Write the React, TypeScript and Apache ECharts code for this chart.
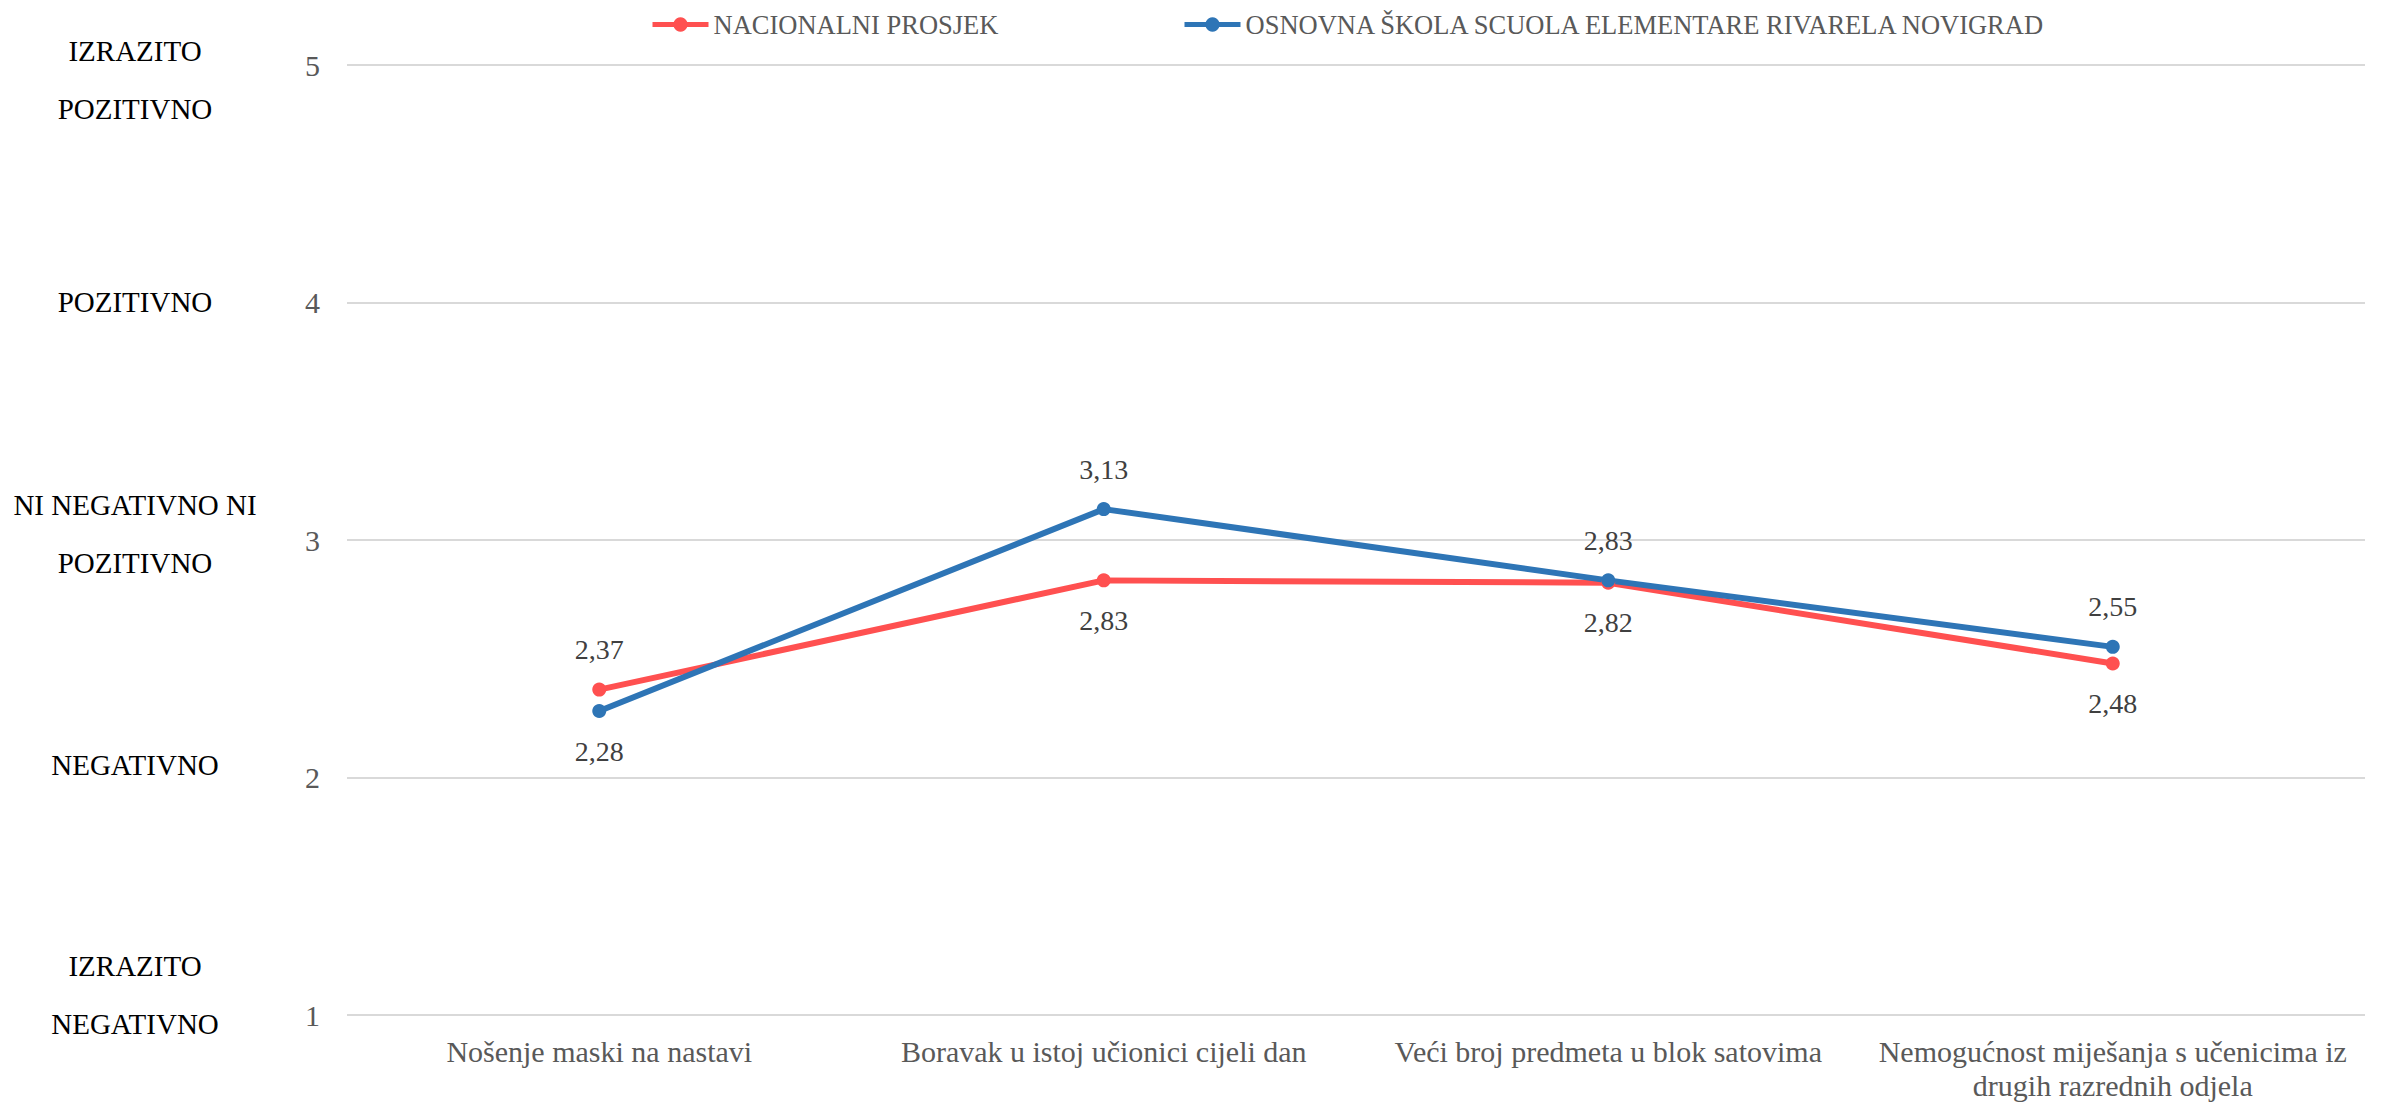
import React, { useEffect, useRef } from "react";
import * as echarts from "echarts";

const categories = [
  "Nošenje maski na nastavi",
  "Boravak u istoj učionici cijeli dan",
  "Veći broj predmeta u blok satovima",
  "Nemogućnost miješanja s učenicima iz\ndrugih razrednih odjela",
];
const seriesNames = ["NACIONALNI PROSJEK", "OSNOVNA ŠKOLA SCUOLA ELEMENTARE RIVARELA NOVIGRAD"];
const nationalValues = [2.37, 2.83, 2.82, 2.48];
const schoolValues = [2.28, 3.13, 2.83, 2.55];
const nationalLabelPos = ["top", "bottom", "bottom", "bottom"];
const schoolLabelPos = ["bottom", "top", "top", "top"];
const scaleLabels = [
  "IZRAZITO\nPOZITIVNO",
  "POZITIVNO",
  "NI NEGATIVNO NI\nPOZITIVNO",
  "NEGATIVNO",
  "IZRAZITO\nNEGATIVNO",
];
const scaleLabelY = [80, 302, 534, 765, 995];

const FONT = "'Liberation Serif', 'Times New Roman', serif";
const RED = "#FF5050";
const BLUE = "#2E75B6";

const fmt = (p: any) => Number(p.value).toFixed(2).replace(".", ",");

export default function App() {
  const ref = useRef<HTMLDivElement>(null);
  useEffect(() => {
    document.body.style.margin = "0";
    const chart = echarts.init(ref.current!, null, { renderer: "svg" });
    const mkData = (vals: number[], pos: string[]) =>
      vals.map((v, i) => ({ value: v, label: { position: pos[i] } }));
    const legendBase = {
      top: 6,
      itemWidth: 56,
      itemHeight: 18,
      lineStyle: { width: 5 },
      textStyle: { fontFamily: FONT, fontSize: 26.5, color: "#595959" },
    };
    chart.setOption({
      animation: false,
      backgroundColor: "#ffffff",
      legend: [
        { ...legendBase, data: [seriesNames[0]], left: 645 },
        { ...legendBase, data: [seriesNames[1]], left: 1177 },
      ],
      grid: { left: 347, right: 16, top: 65, bottom: 86 },
      xAxis: {
        type: "category",
        data: categories,
        boundaryGap: true,
        axisLine: { show: false },
        axisTick: { show: false },
        axisLabel: {
          interval: 0,
          margin: 19,
          fontFamily: FONT,
          fontSize: 30,
          lineHeight: 34,
          color: "#595959",
        },
      },
      yAxis: {
        type: "value",
        min: 1,
        max: 5,
        interval: 1,
        axisLine: { show: false },
        axisTick: { show: false },
        axisLabel: { margin: 27, fontFamily: FONT, fontSize: 30, color: "#595959" },
        splitLine: { lineStyle: { color: "#d9d9d9", width: 2 } },
      },
      graphic: scaleLabels.map((t, i) => ({
        type: "text",
        x: 135,
        y: scaleLabelY[i],
        style: {
          text: t,
          align: "center",
          verticalAlign: "middle",
          fontFamily: FONT,
          fontSize: 29,
          lineHeight: 58,
          fill: "#000000",
        },
      })),
      series: [
        {
          name: seriesNames[0],
          type: "line",
          data: mkData(nationalValues, nationalLabelPos),
          symbol: "circle",
          symbolSize: 14,
          lineStyle: { color: RED, width: 6 },
          itemStyle: { color: RED },
          label: {
            show: true,
            distance: 19,
            formatter: fmt,
            fontFamily: FONT,
            fontSize: 28,
            color: "#404040",
          },
        },
        {
          name: seriesNames[1],
          type: "line",
          data: mkData(schoolValues, schoolLabelPos),
          symbol: "circle",
          symbolSize: 14,
          lineStyle: { color: BLUE, width: 6 },
          itemStyle: { color: BLUE },
          label: {
            show: true,
            distance: 19,
            formatter: fmt,
            fontFamily: FONT,
            fontSize: 28,
            color: "#404040",
          },
        },
      ],
    });
    return () => chart.dispose();
  }, []);
  return <div ref={ref} style={{ width: 2381, height: 1102 }} />;
}
